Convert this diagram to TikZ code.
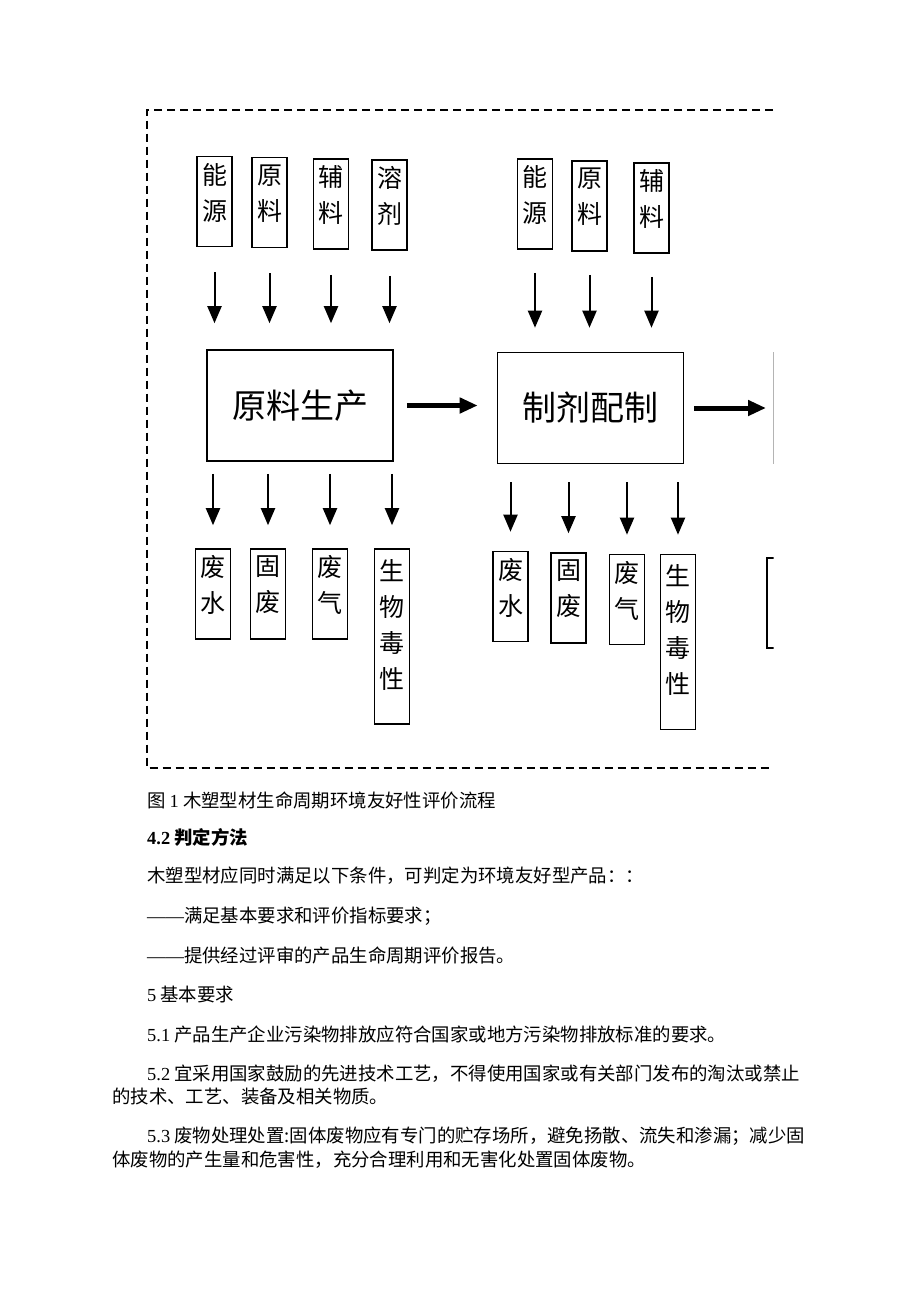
\documentclass[tikz,border=0pt]{standalone}
\usepackage{fontspec}
\setmainfont{Liberation Serif}
\newfontfamily\cjk{Noto Sans CJK SC}
\usepackage{tikz}
\usetikzlibrary{arrows.meta}
\tikzset{
    %Define standard arrow tip
    >={Triangle[width=14pt,length=17pt]},
    %Define style for boxes
    punkt/.style={
           rectangle,
           draw=black, line width=1.6pt,
           minimum width=35pt,
           minimum height=90pt,
           inner sep=0pt,
           align=center,
           font=\cjk\fontsize{25}{36}\selectfont,
           text depth=20pt},
    punktlang/.style={
           punkt,
           minimum height=175pt,
           text depth=26pt},
    punktrect/.style={
           rectangle,
           draw=black, line width=1.6pt,
           minimum width=186pt,
           minimum height=111pt,
           inner sep=0pt,
           font=\cjk\fontsize{34}{40}\selectfont},
    % Define arrow style
    pil/.style={
           ->,
           line width=2pt},
    tykkpil/.style={
           -{Triangle[width=15pt,length=18pt]},
           line width=5pt},
    % frame and text lines
    ramme/.style={
           dash pattern=on 8pt off 5pt,
           line width=2pt},
    tekst/.style={
           anchor=west,
           inner sep=0pt,
           font=\cjk\fontsize{18.4}{22}\selectfont}
}
\begin{document}
\begin{tikzpicture}[x=1pt,y=-1pt]
\useasboundingbox[fill=white] (0,0) rectangle (920,1302);
 %frame
\draw[ramme] (773,109.5) -- (147,109.5) -- (147,768) -- (773,768);
 %nodes
\node[punkt](11) at (214.5,201.5){能\\源};
\node[punkt](12) at (269.5,202.5){原\\料};
\node[punkt](13) at (331,204){辅\\料};
\node[punkt](14) at (389.5,205){溶\\剂};
\node[punktrect](10) at (300,405.5){原料生产};
\node[punkt](15) at (213,594){废\\水};
\node[punkt](16) at (268,594){固\\废};
\node[punkt](17) at (330,594){废\\气};
\node[punktlang](18) at (392,636.5){生\\物\\毒\\性};
\node[punkt](21) at (535,204){能\\源};
\node[punkt](22) at (589.5,206){原\\料};
\node[punkt](23) at (651.5,208){辅\\料};
\node[punktrect](20) at (590.5,408){制剂配制};
\node[punkt](24) at (510.5,596.5){废\\水};
\node[punkt](25) at (568.5,598){固\\废};
\node[punkt](26) at (627,599.5){废\\气};
\node[punktlang](27) at (678,642){生\\物\\毒\\性};
\begin{scope}
\clip (0,0) rectangle (773.5,1302);
\node[punktrect, draw=black!45, line width=0.8pt, anchor=west](30) at (773,407.5){};
\node[punkt, anchor=west](31) at (766,603){};
\end{scope}
 %arrows
\path[pil, shorten <=25pt, shorten >=26pt]
    (11) edge (11 |- 10.north)
    (12) edge (12 |- 10.north)
    (13) edge (13 |- 10.north)
    (14) edge (14 |- 10.north);
\path[pil, shorten <=23pt, shorten >=24pt]
    (21) edge (21 |- 20.north)
    (22) edge (22 |- 20.north)
    (23) edge (23 |- 20.north);
\path[pil, shorten <=12pt, shorten >=23pt]
    (15 |- 10.south) edge (15)
    (16 |- 10.south) edge (16)
    (17 |- 10.south) edge (17)
    (18 |- 10.south) edge (18);
\path[pil, shorten <=18pt, shorten >=19pt]
    (24 |- 20.south) edge (24)
    (25 |- 20.south) edge (25)
    (26 |- 20.south) edge (26)
    (27 |- 20.south) edge (27);
\path[tykkpil]
    (10.east) edge[shorten <=13pt, shorten >=19pt] (10.east -| 20.west)
    (20.east) edge[shorten <=10pt, shorten >=7pt] (20.east -| 30.west);
 %text below
\node[tekst](t1) at (147,800){图 \textrm{1} 木塑型材生命周期环境友好性评价流程};
\node[tekst](t2) at (147,837){\bfseries\textrm{4.2} 判定方法};
\node[tekst](t3) at (147,876){木塑型材应同时满足以下条件，可判定为环境友好型产品：：};
\node[tekst](t4) at (147,916){\textrm{——}满足基本要求和评价指标要求；};
\node[tekst](t5) at (147,955){\textrm{——}提供经过评审的产品生命周期评价报告。};
\node[tekst](t6) at (147,995){\textrm{5} 基本要求};
\node[tekst](t7) at (147,1034){\textrm{5.1} 产品生产企业污染物排放应符合国家或地方污染物排放标准的要求。};
\node[tekst](t8) at (147,1074){\textrm{5.2} 宜采用国家鼓励的先进技术工艺，不得使用国家或有关部门发布的淘汰或禁止};
\node[tekst](t9) at (112,1097){的技术、工艺、装备及相关物质。};
\node[tekst](t10) at (147,1136){\textrm{5.3} 废物处理处置:固体废物应有专门的贮存场所，避免扬散、流失和渗漏；减少固};
\node[tekst](t11) at (112,1160){体废物的产生量和危害性，充分合理利用和无害化处置固体废物。};
\end{tikzpicture}
\end{document}
